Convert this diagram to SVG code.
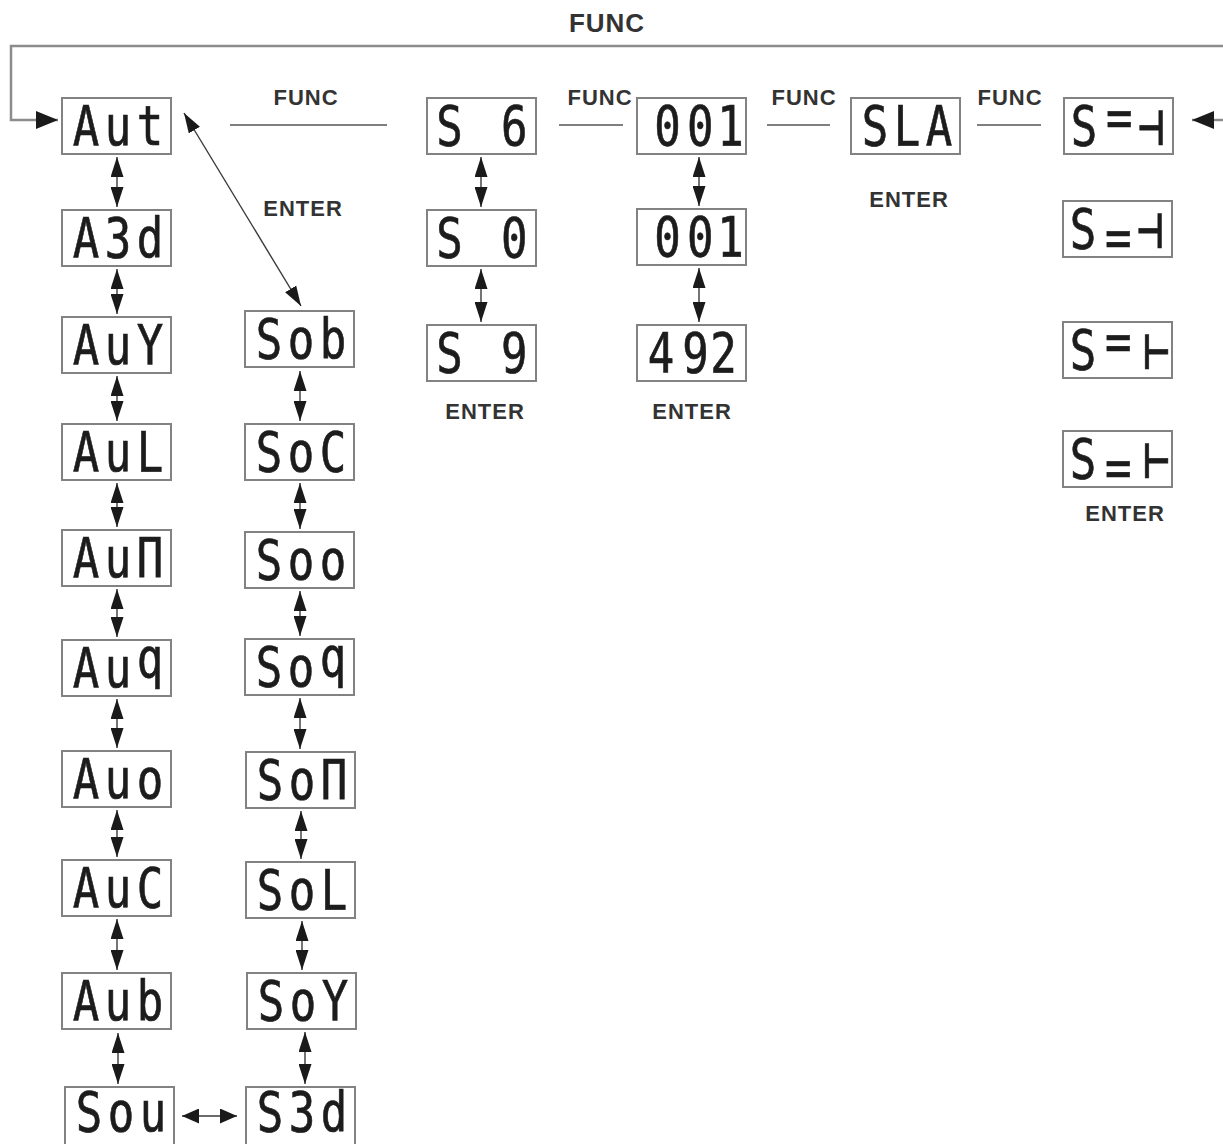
<svg xmlns="http://www.w3.org/2000/svg" width="1223" height="1144" viewBox="0 0 1223 1144">
<style>
.box{fill:#fff;stroke:#828282;stroke-width:2}
.seg{font-family:"DejaVu Sans Mono","Liberation Mono",monospace;font-size:55px;fill:#1c1c1c;stroke:#1c1c1c;stroke-width:0.7;text-anchor:middle}
.lbl{font-family:"Liberation Sans",Arial,sans-serif;font-weight:bold;font-size:22px;fill:#333;letter-spacing:1px;text-anchor:middle}
.ln{fill:none;stroke:#3a3a3a;stroke-width:1.4}
.loop{fill:none;stroke:#8c8c8c;stroke-width:2.5}
.fl{fill:none;stroke:#555;stroke-width:1.5}
</style>
<defs>
<marker id="ah" viewBox="0 0 20 13" refX="20" refY="6.5" markerWidth="20" markerHeight="13" markerUnits="userSpaceOnUse" orient="auto-start-reverse"><path d="M0,0 L20,6.5 L0,13 z" fill="#1a1a1a"/></marker>
<marker id="ahb" viewBox="0 0 22 18" refX="22" refY="9" markerWidth="22" markerHeight="18" markerUnits="userSpaceOnUse" orient="auto-start-reverse"><path d="M0,0 L22,9 L0,18 z" fill="#1a1a1a"/></marker>
<marker id="ahh" viewBox="0 0 17 15" refX="17" refY="7.5" markerWidth="17" markerHeight="15" markerUnits="userSpaceOnUse" orient="auto-start-reverse"><path d="M0,0 L17,7.5 L0,15 z" fill="#1a1a1a"/></marker>
</defs>

<g id="labels">
<text class="lbl" x="607" y="32" style="font-size:26px">FUNC</text>
<text class="lbl" x="306" y="105">FUNC</text>
<text class="lbl" x="600" y="105">FUNC</text>
<text class="lbl" x="804" y="105">FUNC</text>
<text class="lbl" x="1010" y="105">FUNC</text>
<text class="lbl" x="303" y="216">ENTER</text>
<text class="lbl" x="485" y="419">ENTER</text>
<text class="lbl" x="692" y="419">ENTER</text>
<text class="lbl" x="909" y="207">ENTER</text>
<text class="lbl" x="1125" y="521">ENTER</text>
</g>

<g id="connectors">
<path class="loop" d="M1223,46 H11 V120 H58" marker-end="url(#ahb)"/>
<path class="loop" d="M1223,120 H1192" marker-end="url(#ahb)"/>
<line class="fl" x1="230" y1="125" x2="387" y2="125"/>
<line class="fl" x1="559" y1="125" x2="623" y2="125"/>
<line class="fl" x1="767" y1="125" x2="830" y2="125"/>
<line class="fl" x1="977" y1="125" x2="1041" y2="125"/>
<line class="ln" x1="184" y1="113" x2="301" y2="306" marker-start="url(#ah)" marker-end="url(#ah)"/>
<g marker-start="url(#ah)" marker-end="url(#ah)">
<line class="ln" x1="117" y1="157" x2="117" y2="207"/>
<line class="ln" x1="117" y1="269" x2="117" y2="314"/>
<line class="ln" x1="117" y1="376" x2="117" y2="421"/>
<line class="ln" x1="117" y1="483" x2="117" y2="527"/>
<line class="ln" x1="117" y1="589" x2="117" y2="637"/>
<line class="ln" x1="117" y1="699" x2="117" y2="748"/>
<line class="ln" x1="117" y1="810" x2="117" y2="857"/>
<line class="ln" x1="117" y1="919" x2="117" y2="970"/>
<line class="ln" x1="118" y1="1033" x2="118" y2="1084"/>
<line class="ln" x1="300" y1="371" x2="300" y2="421"/>
<line class="ln" x1="300" y1="483" x2="300" y2="529"/>
<line class="ln" x1="300" y1="591" x2="300" y2="636"/>
<line class="ln" x1="300" y1="698" x2="300" y2="749"/>
<line class="ln" x1="301" y1="811" x2="301" y2="859"/>
<line class="ln" x1="302" y1="921" x2="302" y2="970"/>
<line class="ln" x1="305" y1="1032" x2="305" y2="1084"/>
<line class="ln" x1="481" y1="157" x2="481" y2="207"/>
<line class="ln" x1="481" y1="269" x2="481" y2="322"/>
<line class="ln" x1="699" y1="157" x2="699" y2="206"/>
<line class="ln" x1="699" y1="268" x2="699" y2="322"/>
</g>
<line class="ln" x1="182" y1="1116" x2="237" y2="1116" marker-start="url(#ahh)" marker-end="url(#ahh)"/>
</g>

<g id="n-aut" transform="translate(62,98)"><rect class="box" width="109" height="56"/><text class="seg" transform="scale(0.8,1)" x="30 70 110" y="47">Aut</text></g>
<g id="n-a3d" transform="translate(62,210)"><rect class="box" width="109" height="56"/><text class="seg" transform="scale(0.8,1)" x="30 70 110" y="47">A3d</text></g>
<g id="n-auy" transform="translate(62,317)"><rect class="box" width="109" height="56"/><text class="seg" transform="scale(0.8,1)" x="30 70 110" y="47">AuY</text></g>
<g id="n-aul" transform="translate(62,424)"><rect class="box" width="109" height="56"/><text class="seg" transform="scale(0.8,1)" x="30 70 110" y="47">AuL</text></g>
<g id="n-aum" transform="translate(62,530)"><rect class="box" width="109" height="56"/><text class="seg" transform="scale(0.8,1)" x="30 70 110" y="47">AuΠ</text></g>
<g id="n-auq" transform="translate(62,640)"><rect class="box" width="109" height="56"/><text class="seg" transform="scale(0.8,1)" x="30 70 110" y="47" dy="0 0 -10">Auq</text></g>
<g id="n-auo" transform="translate(62,751)"><rect class="box" width="109" height="56"/><text class="seg" transform="scale(0.8,1)" x="30 70 110" y="47">Auo</text></g>
<g id="n-auc" transform="translate(62,860)"><rect class="box" width="109" height="56"/><text class="seg" transform="scale(0.8,1)" x="30 70 110" y="47">AuC</text></g>
<g id="n-aub" transform="translate(62,973)"><rect class="box" width="109" height="56"/><text class="seg" transform="scale(0.8,1)" x="30 70 110" y="47">Aub</text></g>
<g id="n-sou" transform="translate(65,1087)"><rect class="box" width="109" height="58"/><text class="seg" transform="scale(0.8,1)" x="30 70 110" y="44">Sou</text></g>

<g id="n-sob" transform="translate(245,311)"><rect class="box" width="109" height="56"/><text class="seg" transform="scale(0.8,1)" x="30 70 110" y="47">Sob</text></g>
<g id="n-soc" transform="translate(245,424)"><rect class="box" width="109" height="56"/><text class="seg" transform="scale(0.8,1)" x="30 70 110" y="47">SoC</text></g>
<g id="n-soo" transform="translate(245,532)"><rect class="box" width="109" height="56"/><text class="seg" transform="scale(0.8,1)" x="30 70 110" y="47">Soo</text></g>
<g id="n-soq" transform="translate(245,639)"><rect class="box" width="109" height="56"/><text class="seg" transform="scale(0.8,1)" x="30 70 110" y="47" dy="0 0 -10">Soq</text></g>
<g id="n-som" transform="translate(246,752)"><rect class="box" width="109" height="56"/><text class="seg" transform="scale(0.8,1)" x="30 70 110" y="47">SoΠ</text></g>
<g id="n-sol" transform="translate(246,862)"><rect class="box" width="109" height="56"/><text class="seg" transform="scale(0.8,1)" x="30 70 110" y="47">SoL</text></g>
<g id="n-soy" transform="translate(247,973)"><rect class="box" width="109" height="56"/><text class="seg" transform="scale(0.8,1)" x="30 70 110" y="47">SoY</text></g>
<g id="n-s3d" transform="translate(246,1087)"><rect class="box" width="109" height="58"/><text class="seg" transform="scale(0.8,1)" x="30 70 110" y="44">S3d</text></g>

<g id="n-s6" transform="translate(427,98)"><rect class="box" width="109" height="56"/><text class="seg" transform="scale(0.8,1)" x="28 68 109" y="47">S 6</text></g>
<g id="n-s0" transform="translate(427,210)"><rect class="box" width="109" height="56"/><text class="seg" transform="scale(0.8,1)" x="28 68 109" y="47">S 0</text></g>
<g id="n-s9" transform="translate(427,325)"><rect class="box" width="109" height="56"/><text class="seg" transform="scale(0.8,1)" x="28 68 109" y="47">S 9</text></g>

<g id="n-001a" transform="translate(637,98)"><rect class="box" width="109" height="56"/><text class="seg" transform="scale(0.8,1)" x="38 79 117" y="47">001</text></g>
<g id="n-001b" transform="translate(637,209)"><rect class="box" width="109" height="56"/><text class="seg" transform="scale(0.8,1)" x="38 79 117" y="47">001</text></g>
<g id="n-492" transform="translate(637,325)"><rect class="box" width="109" height="56"/><text class="seg" transform="scale(0.8,1)" x="30 73 108" y="47">492</text></g>

<g id="n-sla" transform="translate(851,98)"><rect class="box" width="109" height="56"/><text class="seg" transform="scale(0.8,1)" x="30 70 110" y="47">SLA</text></g>

<g id="n-r1" transform="translate(1064,98)"><rect class="box" width="109" height="56"/><text class="seg" transform="scale(0.8,1)" x="25 69 109" y="47" dy="0 -8 8">S=⊣</text></g>
<g id="n-r2" transform="translate(1063,201)"><rect class="box" width="109" height="56"/><text class="seg" transform="scale(0.8,1)" x="25 69 109" y="47" dy="0 9 -9">S=⊣</text></g>
<g id="n-r3" transform="translate(1063,322)"><rect class="box" width="109" height="56"/><text class="seg" transform="scale(0.8,1)" x="25 69 117" y="47" dy="0 -8 8">S=⊢</text></g>
<g id="n-r4" transform="translate(1063,431)"><rect class="box" width="109" height="56"/><text class="seg" transform="scale(0.8,1)" x="25 69 117" y="47" dy="0 9 -9">S=⊢</text></g>
</svg>
